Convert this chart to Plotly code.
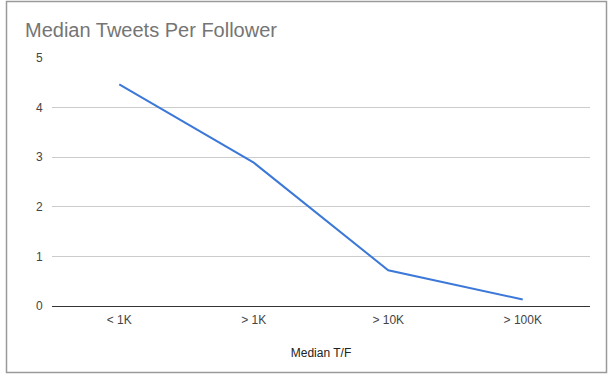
import plotly.graph_objects as go

categories = ["< 1K", "> 1K", "> 10K", "> 100K"]
median_tf = [4.47, 2.89, 0.72, 0.13]
y_ticks = [0, 1, 2, 3, 4, 5]

fig = go.Figure()
fig.add_trace(go.Scatter(
    x=categories, y=median_tf, mode="lines",
    line=dict(color="#3b78d8", width=2), hoverinfo="x+y",
))

W, H = 612, 377
L, R, T, B = 52, 22, 58, 71
pw, ph = W - L - R, H - T - B

def px_x(px):
    return (px - L) / pw

def px_y(py):
    return (H - B - py) / ph

fig.update_layout(
    width=W, height=H,
    margin=dict(l=L, r=R, t=T, b=B),
    paper_bgcolor="white", plot_bgcolor="white",
    font=dict(family="Liberation Sans, Arial, sans-serif", size=12, color="#444444"),
    showlegend=False,
    title=dict(text="Median Tweets Per Follower", x=25 / W, xref="container", xanchor="left",
               y=1 - 30 / H, yref="container", yanchor="middle",
               font=dict(size=20, color="#757575")),
    xaxis=dict(type="category", range=[-0.5, 3.5], showgrid=False, zeroline=False,
               showline=True, linecolor="#333333", linewidth=1, ticks="outside", ticklen=3,
               tickcolor="white",
               tickfont=dict(size=12, color="#444444"),
               title=dict(text="Median T/F", standoff=22, font=dict(size=12, color="#222222"))),
    yaxis=dict(range=[0, 5], tickvals=y_ticks, showgrid=True, gridcolor="#cccccc", gridwidth=1,
               zeroline=False, showline=False, ticks="outside", ticklen=6, tickcolor="white",
               tickfont=dict(size=12, color="#444444")),
)

fig.add_shape(type="rect", xref="paper", yref="paper",
              x0=px_x(6.5), x1=px_x(606.5), y0=px_y(372.5), y1=px_y(1.5),
              line=dict(color="#9a9a9a", width=1.5), fillcolor="rgba(0,0,0,0)", layer="below")

fig.write_html("out.html", config={"displayModeBar": False},
               post_script="document.body.style.margin='0';document.body.style.overflow='hidden';")
